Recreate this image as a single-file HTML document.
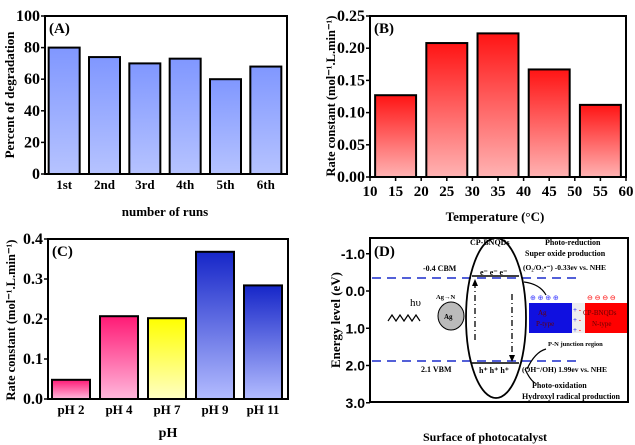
<!DOCTYPE html>
<html><head><meta charset="utf-8"><style>
body{margin:0;background:#fff}
svg{display:block;font-family:"Liberation Serif",serif;font-weight:bold}
</style></head><body>
<svg id="s" width="635" height="445" viewBox="0 0 635 445">
<defs>
<linearGradient id="gA" x1="0" y1="0" x2="0" y2="1"><stop offset="0" stop-color="#8097ff"/><stop offset="1" stop-color="#b6c3ff"/></linearGradient>
<linearGradient id="gB" x1="0" y1="0" x2="0" y2="1"><stop offset="0" stop-color="#ff1414"/><stop offset="1" stop-color="#ffb3b3"/></linearGradient>
<linearGradient id="gP" x1="0" y1="0" x2="0" y2="1"><stop offset="0" stop-color="#ff1a75"/><stop offset="1" stop-color="#ffb8dc"/></linearGradient>
<linearGradient id="gY" x1="0" y1="0" x2="0" y2="1"><stop offset="0" stop-color="#ffff00"/><stop offset="1" stop-color="#ffffc4"/></linearGradient>
<linearGradient id="gU" x1="0" y1="0" x2="0" y2="1"><stop offset="0" stop-color="#1626c8"/><stop offset="1" stop-color="#b3bcff"/></linearGradient>
</defs>
<g id="A"></g>
<g id="B"></g>
<g id="C"></g>
<g id="D">
<rect x="370" y="238" width="258" height="164" fill="none" stroke="#000" stroke-width="2"/>
<text x="374" y="256" font-size="15">(D)</text>
<line x1="372" y1="278" x2="580" y2="278" stroke="#1a2bcc" stroke-width="1.5" stroke-dasharray="9,6"/>
<line x1="372" y1="361" x2="580" y2="361" stroke="#1a2bcc" stroke-width="1.5" stroke-dasharray="9,6"/>
<ellipse cx="496" cy="318" rx="30" ry="80" fill="none" stroke="#000" stroke-width="1.8"/>
<line x1="472" y1="276" x2="519" y2="276" stroke="#000" stroke-width="1.5"/>
<line x1="472" y1="363" x2="519" y2="363" stroke="#000" stroke-width="1.5"/>
<line x1="475" y1="340" x2="475" y2="282" stroke="#000" stroke-width="1.3" stroke-dasharray="6,3,1,3"/>
<polygon points="472,286 478,286 475,279" fill="#000"/>
<line x1="512" y1="294" x2="512" y2="358" stroke="#000" stroke-width="1.3" stroke-dasharray="6,3,1,3"/>
<polygon points="509,355 515,355 512,362" fill="#000"/>
<text x="480" y="275" font-size="8">e⁻ e⁻ e⁻</text>
<text x="479" y="373" font-size="8">h⁺ h⁺ h⁺</text>
<text x="470" y="245" font-size="8">CP-BNQDs</text>
<text x="545" y="245" font-size="8">Photo-reduction</text>
<text x="525" y="256" font-size="8">Super oxide production</text>
<text x="523" y="270" font-size="7.5">(O₂/O₂•⁻) -0.33ev vs. NHE</text>
<text x="423" y="271" font-size="8">-0.4 CBM</text>
<text x="421" y="372" font-size="8">2.1 VBM</text>
<text x="522" y="372" font-size="7.5">(OH⁻/OH) 1.99ev vs. NHE</text>
<text x="532" y="388" font-size="8">Photo-oxidation</text>
<text x="522" y="399" font-size="8">Hydroxyl radical production</text>
<path d="M524,282 Q540,284 546,295" fill="none" stroke="#000" stroke-width="1.2"/>
<path d="M527,369 Q535,352 546,349" fill="none" stroke="#000" stroke-width="1.2"/>
<path d="M525,369 Q530,380 535,383" fill="none" stroke="#000" stroke-width="1.2"/>
<path d="M388,321 l4,-6 l4,6 l4,-6 l4,6 l4,-6 l4,6 l4,-6 l4,6" fill="none" stroke="#000" stroke-width="1.2"/>
<text x="410" y="306" font-size="11" font-weight="normal">hυ</text>
<ellipse cx="451" cy="316" rx="13" ry="14" fill="#bbb" stroke="#000" stroke-width="1"/>
<text x="444" y="319" font-size="7">Ag</text>
<text x="436" y="299" font-size="6.5">Ag→N</text>
<rect x="529" y="303" width="43" height="30" fill="#1010e0"/>
<rect x="572" y="303" width="13" height="30" fill="#eee"/>
<rect x="585" y="303" width="42" height="30" fill="#f00"/>
<text x="538" y="315" font-size="7" font-weight="normal" fill="#600">Ag</text>
<text x="536" y="326" font-size="7" font-weight="normal" fill="#600">P-type</text>
<text x="583" y="315" font-size="7" font-weight="normal" fill="#600">CP-BNQDs</text>
<text x="592" y="326" font-size="7" font-weight="normal" fill="#600">N-type</text>
<text x="573" y="312" font-size="7" fill="#33f">+ <tspan fill="#f00">-</tspan></text>
<text x="573" y="322" font-size="7" fill="#33f">+ <tspan fill="#f00">-</tspan></text>
<text x="573" y="332" font-size="7" fill="#33f">+ <tspan fill="#f00">-</tspan></text>
<text x="530" y="300" font-size="7" fill="#33f" font-weight="normal">⊕ ⊕ ⊕ ⊕</text>
<text x="587" y="300" font-size="7" fill="#f00" font-weight="normal">⊖ ⊖ ⊖ ⊖</text>
<text x="548" y="346" font-size="6.5">P-N junction region</text>
<text x="485" y="441" font-size="12" text-anchor="middle">Surface of photocatalyst</text>
<text transform="translate(340,320) rotate(-90)" font-size="13" text-anchor="middle">Energy level  (eV)</text>
</g>
</svg>
<script>
const runCats=["1st","2nd","3rd","4th","5th","6th"];
const runVals=[80,74,70,73,60,68];
const runTicks=[0,20,40,60,80,100];
const tempCats=[15,25,35,45,55];
const tempVals=[0.127,0.208,0.223,0.167,0.112];
const tempXTicks=[10,15,20,25,30,35,40,45,50,55,60];
const tempYTicks=["0.00","0.05","0.10","0.15","0.20","0.25"];
const phCats=["pH 2","pH 4","pH 7","pH 9","pH 11"];
const phVals=[0.048,0.207,0.202,0.368,0.284];
const phYTicks=["0.0","0.1","0.2","0.3","0.4"];
const energyTicks=["-1.0","0.0","1.0","2.0","3.0"];
const NS="http://www.w3.org/2000/svg";
function mk(p,t,a,txt){const e=document.createElementNS(NS,t);for(const k in a)e.setAttribute(k,a[k]);if(txt!==undefined)e.textContent=txt;p.appendChild(e);return e;}
function panel(g,x0,y0,x1,y1,ymax,yt,label,lab,xt,yt2,fs){
  const fr=mk(g,'rect',{x:x0,y:y0,width:x1-x0,height:y1-y0,fill:'none',stroke:'#000','stroke-width':2});
  
  
  const yS=v=>y1-(v/ymax)*(y1-y0);
  yt.forEach(t=>{const v=parseFloat(t);mk(g,'line',{x1:x0-4,x2:x0,y1:yS(v),y2:yS(v),stroke:'#000','stroke-width':1.5});
    const tx=mk(g,'text',{x:x0-5,y:yS(v)+5,'font-size':16,'text-anchor':'end'},t);
    
    });
  const l=mk(g,'text',{x:x0+4,y:y0+17,'font-size':15},label);
  
  
  const xtt=mk(g,'text',{x:xt[0],y:xt[1],'font-size':xt[3]||13,'text-anchor':'middle'},xt[2]);
  
  
  const ytt=mk(g,'text',{transform:`translate(${yt2[0]},${yt2[1]}) rotate(-90)`,'font-size':fs,'text-anchor':'middle'},yt2[2]);
  
  
  return yS;
}
function bar(g,x,w,y,yb,fill){const r=mk(g,'rect',{x:x,y:y,width:w,height:yb-y,fill:fill,stroke:'#000','stroke-width':2});
  
  }
// A
(function(){const g=document.getElementById('A');const x0=45,x1=287,y0=16,y1=174;
 const yS=panel(g,x0,y0,x1,y1,100,runTicks.map(String),'(A)',null,[165,216,'number of runs',13],[14,95,'Percent of degradation'],13);
 const step=(x1-x0)/runCats.length;
 runCats.forEach((c,i)=>{const cx=x0+step*(i+0.5)-1;bar(g,cx-15.5,31,yS(runVals[i]),y1,'url(#gA)');
  const t=mk(g,'text',{x:cx,y:189,'font-size':13,'text-anchor':'middle'},c);
  
  });})();
// B
(function(){const g=document.getElementById('B');const x0=370,x1=626,y0=16,y1=177;
 const yS=panel(g,x0,y0,x1,y1,0.25,tempYTicks,'(B)',null,[495,221,'Temperature (°C)',13],[335,96,'Rate constant (mol⁻¹.L.min⁻¹)'],12.5);
 const xS=v=>x0+(v-10)/50*(x1-x0);
 tempXTicks.forEach(v=>{mk(g,'line',{x1:xS(v),x2:xS(v),y1:y1,y2:y1+4,stroke:'#000','stroke-width':1.5});
  const t=mk(g,'text',{x:xS(v),y:196,'font-size':15,'text-anchor':'middle'},String(v));
  
  });
 tempCats.forEach((c,i)=>{bar(g,xS(c-4),xS(c+4)-xS(c-4),yS(tempVals[i]),y1,'url(#gB)');});})();
// C
(function(){const g=document.getElementById('C');const x0=48,x1=288,y0=239,y1=399;
 const yS=panel(g,x0,y0,x1,y1,0.4,phYTicks,'(C)',null,[168,437,'pH',14],[15,320,'Rate constant (mol⁻¹.L.min⁻¹)'],12.5);
 const fills=['url(#gP)','url(#gP)','url(#gY)','url(#gU)','url(#gU)'];
 const step=(x1-x0)/phCats.length;
 phCats.forEach((c,i)=>{const cx=x0+step*(i+0.5)-1;bar(g,cx-19,38,yS(phVals[i]),y1,fills[i]);
  const t=mk(g,'text',{x:cx,y:414,'font-size':13,'text-anchor':'middle'},c);
  
  });})();
// D axis
(function(){const g=document.getElementById('D');const yS=v=>291+v*37.25;
 energyTicks.forEach(t=>{const v=parseFloat(t);mk(g,'line',{x1:366,x2:370,y1:yS(v),y2:yS(v),stroke:'#000','stroke-width':1.5});
  const tx=mk(g,'text',{x:365,y:yS(v)+5,'font-size':14,'text-anchor':'end','font-family':'Liberation Sans'},t);
  
  });})();
</script>
</body></html>
